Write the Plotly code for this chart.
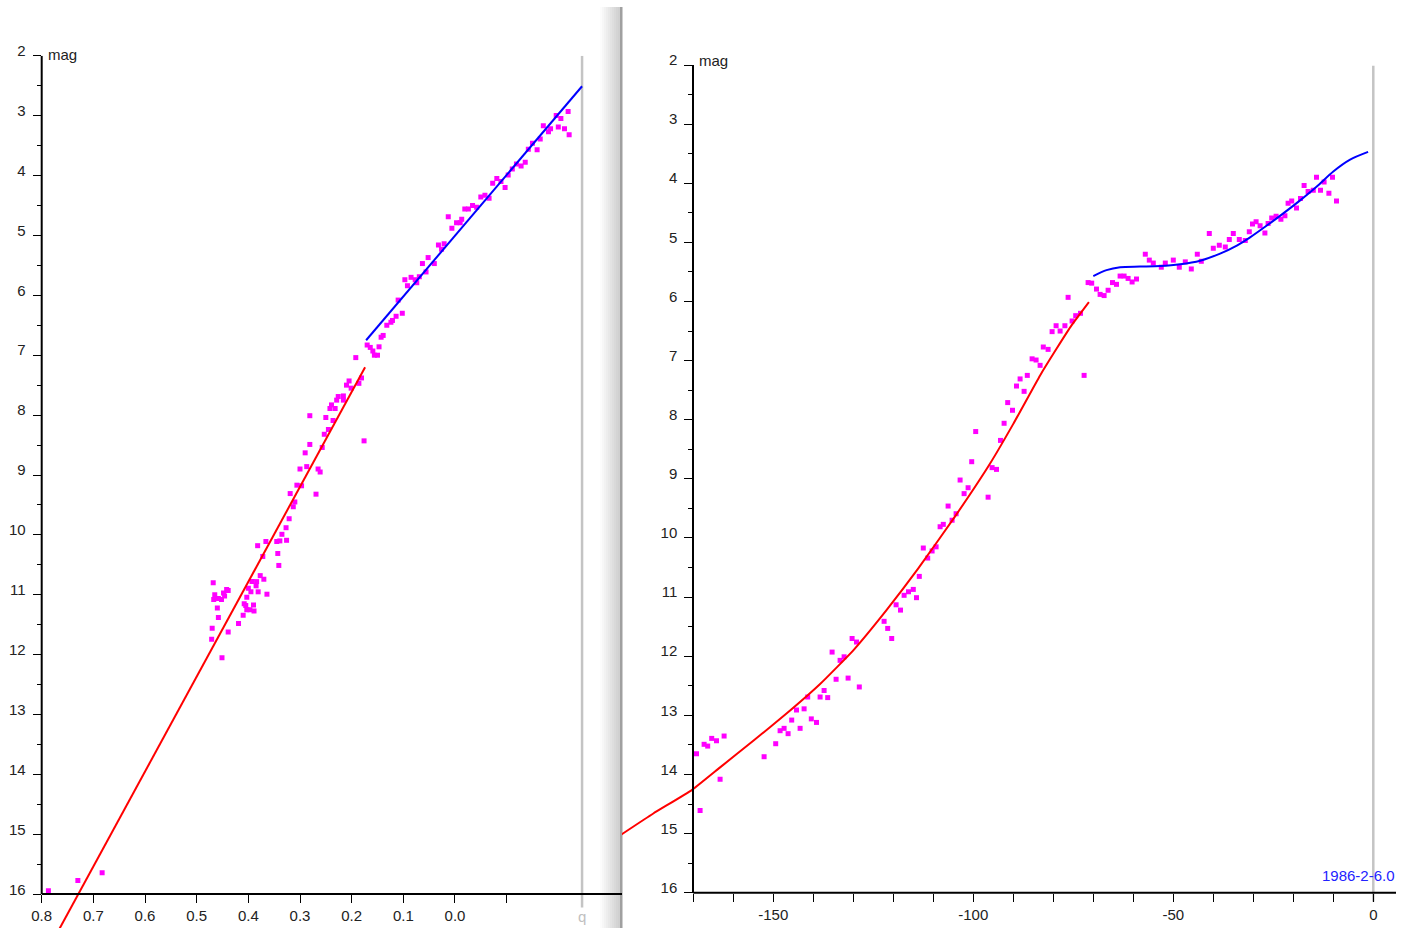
import plotly.graph_objects as go

W, H = 1411, 928

# ---- left panel: magnitude vs log r ----
logr_obs = [-0.219, -0.196, -0.205, -0.171, -0.200, -0.212, -0.185, -0.181, -0.221, -0.165,
            -0.150, -0.142, -0.159, -0.136, -0.128, -0.119, -0.111, -0.103, -0.081, -0.073,
            -0.089, -0.097, -0.058, -0.050, -0.066, -0.034, -0.026, -0.019, -0.042, 0.013,
            -0.013, -0.003, -0.010, 0.006, 0.032, 0.021, 0.026, 0.052, 0.063, 0.040,
            0.056, 0.085, 0.097, 0.077, 0.069, 0.092, 0.074, 0.110, 0.102, 0.114,
            0.124, 0.132, 0.121, 0.139, 0.143, 0.170, 0.164, 0.147, 0.159, 0.156,
            0.150, 0.192,
            0.181, 0.186, 0.205, 0.210, 0.201, 0.226, 0.216, 0.229, 0.216, 0.239,
            0.242, 0.232, 0.281, 0.250, 0.236, 0.245, 0.253, 0.281, 0.257, 0.290,
            0.176, 0.287, 0.300, 0.265, 0.261, 0.306, 0.297, 0.319, 0.269, 0.310,
            0.313, 0.321, 0.327, 0.335,
            0.366, 0.345, 0.339, 0.326, 0.382, 0.343, 0.372, 0.341, 0.468, 0.377,
            0.370, 0.393, 0.384, 0.385, 0.400, 0.395, 0.381, 0.364, 0.442, 0.439,
            0.448, 0.446, 0.452, 0.465, 0.467, 0.458, 0.403, 0.408, 0.405, 0.390,
            0.460, 0.403, 0.397, 0.389, 0.410, 0.458, 0.419, 0.470, 0.439, 0.471,
            0.451,
            0.787, 0.730, 0.683]
mag_obs_l = [2.93, 3.00, 3.05, 3.17, 3.19, 3.22, 3.22, 3.27, 3.32, 3.39,
             3.46, 3.56, 3.57, 3.78, 3.84, 3.81, 3.89, 3.99, 4.05, 4.13,
             4.10, 4.20, 4.33, 4.36, 4.38, 4.50, 4.56, 4.56, 4.53, 4.69,
             4.73, 4.79, 4.79, 4.88, 5.16, 5.14, 5.23, 5.37, 5.47, 5.47,
             5.61, 5.70, 5.74, 5.74, 5.69, 5.84, 5.79, 6.08, 6.30, 6.35,
             6.45, 6.50, 6.42, 6.67, 6.70, 6.83, 6.87, 6.86, 6.93, 7.00,
             7.00, 7.04,
             7.38, 7.47, 7.43, 7.50, 7.55, 7.69, 7.68, 7.75, 7.75, 7.83,
             7.89, 7.89, 8.01, 8.04, 8.09, 8.24, 8.32, 8.49, 8.54, 8.63,
             8.43, 8.86, 8.90, 8.90, 8.95, 9.17, 9.18, 9.31, 9.32, 9.45,
             9.53, 9.73, 9.88, 9.99,
             10.11, 10.11, 10.10, 10.09, 10.18, 10.31, 10.36, 10.51, 10.80, 10.68,
             10.74, 10.78, 10.78, 10.85, 10.89, 10.95, 10.95, 10.99, 10.91, 10.93,
             10.97, 11.02, 11.08, 11.00, 11.08, 11.06, 11.04, 11.15, 11.18, 11.17,
             11.22, 11.25, 11.25, 11.27, 11.34, 11.38, 11.48, 11.56, 11.62, 11.74,
             12.05,
             15.94, 15.77, 15.64]

# fitted laws (pre- and post-break)
fit_pre_logr = [0.800, 0.174]
fit_pre_mag = [17.12, 7.20]
fit_post_logr = [0.172, -0.246]
fit_post_mag = [6.75, 2.51]
log_q = -0.246

x_ticks_l = [0.8, 0.7, 0.6, 0.5, 0.4, 0.3, 0.2, 0.1, 0.0, -0.1]
x_text_l = ["0.8", "0.7", "0.6", "0.5", "0.4", "0.3", "0.2", "0.1", "0.0", ""]

# ---- right panel: magnitude vs days from perihelion ----
t_obs = [-169.2, -168.3, -167.3, -166.4, -165.4, -164.2, -162.3, -163.3, -152.3, -149.4,
         -148.3, -147.3, -146.3, -145.4, -144.2, -142.3, -143.3, -140.5, -139.2, -141.4,
         -138.3, -137.3, -136.4, -135.3, -134.3, -133.3, -132.3, -131.3, -130.3, -129.2,
         -128.5, -122.3, -121.4, -120.4, -119.3, -118.2, -117.3, -116.2, -115.0, -114.2,
         -113.5,
         -111.4, -110.3, -109.3, -112.5, -108.3, -107.5, -105.3, -104.3, -106.3, -102.3,
         -101.3, -103.3, -100.4, -96.3, -99.4, -95.3, -94.2, -93.2, -92.3, -90.2,
         -91.4, -87.3, -89.2, -88.3, -86.5, -85.3, -84.3, -83.3, -82.5, -81.3,
         -80.3, -79.3, -78.3, -77.1, -76.3, -75.3, -74.4, -73.2, -72.3, -71.3,
         -70.4, -69.2, -68.3, -67.3, -66.3, -65.2, -64.2, -63.3, -62.3, -61.3,
         -60.3, -59.2,
         -57.0, -56.0, -55.0, -53.0, -52.0, -50.0, -48.5, -47.0, -45.5, -44.0,
         -43.0, -41.0, -40.0, -38.5, -37.0, -36.0, -35.0, -33.5, -32.0, -31.0,
         -30.2, -29.3, -28.3, -27.1, -26.3, -25.4, -24.3, -23.1, -22.1, -21.3,
         -20.4, -19.2, -18.2, -17.3, -16.3, -15.0, -14.2, -13.2, -12.3, -11.1,
         -10.2, -9.2]
mag_obs_r = [13.65, 14.61, 13.49, 13.52, 13.39, 13.43, 13.35, 14.08, 13.70, 13.48,
             13.26, 13.22, 13.31, 13.08, 12.91, 12.89, 13.22, 13.06, 13.12, 12.69,
             12.69, 12.58, 12.70, 11.93, 12.39, 12.07, 12.01, 12.37, 11.70, 11.76,
             12.52, 11.41, 11.53, 11.70, 11.13, 11.22, 10.97, 10.91, 10.87, 11.01,
             10.65,
             10.34, 10.22, 10.15, 10.17, 9.81, 9.77, 9.70, 9.59, 9.46, 9.25,
             9.15, 9.02, 8.71, 9.31, 8.20, 8.81, 8.84, 8.35, 8.06, 7.84,
             7.71, 7.52, 7.43, 7.31, 7.25, 6.97, 6.99, 7.08, 6.77, 6.81,
             6.51, 6.41, 6.50, 6.41, 5.93, 6.33, 6.24, 6.20, 7.25, 5.68,
             5.69, 5.79, 5.88, 5.90, 5.81, 5.68, 5.71, 5.57, 5.57, 5.61,
             5.67, 5.62,
             5.20, 5.30, 5.35, 5.42, 5.35, 5.30, 5.42, 5.33, 5.45, 5.20,
             5.32, 4.85, 5.10, 5.05, 5.08, 4.95, 4.85, 4.95, 4.97, 4.82,
             4.69, 4.65, 4.72, 4.84, 4.68, 4.59, 4.56, 4.61, 4.55, 4.34,
             4.30, 4.42, 4.26, 4.04, 4.14, 4.12, 3.90, 4.12, 3.98, 4.17,
             3.90, 4.30]

curve_pre_t = [-188.3, -180.0, -170.3, -163.3, -155.0, -146.7, -138.3, -130.0, -121.7, -113.8,
               -104.2, -95.8, -90.0, -83.3, -79.2, -75.4, -71.1]
curve_pre_mag = [15.03, 14.66, 14.26, 13.88, 13.43, 12.97, 12.47, 11.90, 11.22, 10.52,
                 9.60, 8.74, 8.07, 7.25, 6.80, 6.40, 6.01]
curve_post_t = [-70.0, -66.7, -63.3, -58.3, -53.3, -48.3, -43.3, -38.3, -34.0, -30.9,
                -26.7, -22.5, -18.3, -14.2, -10.0, -5.8, -1.3]
curve_post_mag = [5.57, 5.47, 5.42, 5.41, 5.40, 5.37, 5.31, 5.19, 5.05, 4.92,
                  4.72, 4.51, 4.29, 4.06, 3.80, 3.60, 3.47]

x_ticks_r = list(range(-170, 1, 10))
x_text_r = ["-150" if v == -150 else "-100" if v == -100 else "-50" if v == -50
            else "0" if v == 0 else "" for v in x_ticks_r]

mag_major = list(range(2, 17))
mag_minor = [m + 0.5 for m in range(2, 16)]
perihelion_label = "1986-2-6.0"

# ---- pixel frame of the two panels ----
def px(x):
    return x / W

def py(y):
    return 1 - y / H

L_left, L_right, L_top, L_base = 41.7, 621.7, 55.7, 894.0
L_scale = 59.9          # px per magnitude
L_xscale = 516.6        # px per unit log r
R_left, R_axis, R_right, R_top, R_base = 622.0, 693.3, 1396.0, 65.0, 892.7
R_scale = 4.0           # px per day

l_xmin = 0.8 - (L_right - L_left) / L_xscale
l_ymax = 2 + (H - L_top) / L_scale
r_xmin = -170 - (R_axis - R_left) / R_scale
r_xmax = -170 + (R_right - R_axis) / R_scale

fig = go.Figure()

marker = dict(color="#ff00ff", size=5, symbol="square", line=dict(width=0))

fig.add_trace(go.Scatter(x=logr_obs, y=mag_obs_l, mode="markers", marker=marker,
                         xaxis="x", yaxis="y"))
fig.add_trace(go.Scatter(x=fit_pre_logr, y=fit_pre_mag, mode="lines",
                         line=dict(color="#ff0000", width=2), xaxis="x", yaxis="y"))
fig.add_trace(go.Scatter(x=fit_post_logr, y=fit_post_mag, mode="lines",
                         line=dict(color="#0000ff", width=2), xaxis="x", yaxis="y"))

fig.add_trace(go.Scatter(x=t_obs, y=mag_obs_r, mode="markers", marker=marker,
                         xaxis="x2", yaxis="y2"))
fig.add_trace(go.Scatter(x=curve_pre_t, y=curve_pre_mag, mode="lines",
                         line=dict(color="#ff0000", width=2, shape="spline", smoothing=0.4),
                         xaxis="x2", yaxis="y2"))
fig.add_trace(go.Scatter(x=curve_post_t, y=curve_post_mag, mode="lines",
                         line=dict(color="#0000ff", width=2, shape="spline", smoothing=0.8),
                         xaxis="x2", yaxis="y2"))

FONT = "Liberation Sans, Arial, sans-serif"
tickfont = dict(family=FONT, size=15, color="#222222")
common = dict(showgrid=False, zeroline=False, ticks="outside", ticklen=8, tickwidth=1,
              tickcolor="black", tickfont=tickfont, automargin=False)

yminor = dict(tickvals=mag_minor, ticklen=4, tickwidth=1, tickcolor="black", ticks="outside")
ylab = dict(ticklabelshift=5, ticklabelstandoff=4)

fig.update_layout(
    width=W, height=H, margin=dict(l=0, r=0, t=0, b=0, pad=0),
    paper_bgcolor="white", plot_bgcolor="rgba(0,0,0,0)", showlegend=False,
    xaxis=dict(domain=[px(L_left), px(L_right)], range=[0.8, l_xmin],
               anchor="free", position=py(L_base), side="bottom",
               showline=True, linewidth=2, linecolor="black",
               tickvals=x_ticks_l, ticktext=x_text_l, **common),
    yaxis=dict(domain=[0, py(L_top)], range=[l_ymax, 2], anchor="x",
               showline=False, tickvals=mag_major, ticktext=[str(v) for v in mag_major],
               minor=yminor, **ylab, **common),
    xaxis2=dict(domain=[px(R_left), px(R_right)], range=[r_xmin, r_xmax],
                anchor="y2", showline=False,
                tickvals=x_ticks_r, ticktext=x_text_r, **common),
    yaxis2=dict(domain=[py(R_base), py(R_top)], range=[16, 2],
                anchor="free", position=px(R_axis), side="left",
                showline=True, linewidth=2, linecolor="black",
                tickvals=mag_major, ticktext=[str(v) for v in mag_major],
                minor=yminor, **ylab, **common),
)

shapes = []
# window divider between the two panels
n = 10
for i in range(n):
    g = int(252 - (252 - 208) * i / (n - 1))
    shapes.append(dict(type="rect", xref="paper", yref="paper",
                       x0=px(600 + 2 * i), x1=px(602 + 2 * i), y0=0, y1=py(7),
                       fillcolor=f"rgb({g},{g},{g})", line=dict(width=0), layer="below"))
shapes.append(dict(type="rect", xref="paper", yref="paper", x0=px(620), x1=px(622.5),
                   y0=0, y1=py(7), fillcolor="#a0a0a0", line=dict(width=0), layer="below"))
# left magnitude axis line
shapes.append(dict(type="line", xref="x domain", yref="y", x0=0, x1=0, y0=2, y1=16,
                   line=dict(color="black", width=2)))
# right time axis line
shapes.append(dict(type="line", xref="x2", yref="y2 domain", x0=-170, x1=r_xmax, y0=0, y1=0,
                   line=dict(color="black", width=2)))
# perihelion markers
shapes.append(dict(type="line", xref="x", yref="y", x0=log_q, x1=log_q, y0=2, y1=16.22,
                   line=dict(color="#c4c4c4", width=2.5), layer="below"))
shapes.append(dict(type="line", xref="x2", yref="y2 domain", x0=0, x1=0, y0=-0.011, y1=0.999,
                   line=dict(color="#c4c4c4", width=2.5), layer="below"))
fig.update_layout(shapes=shapes)

labfont = dict(family=FONT, size=15, color="#222222")
fig.add_annotation(text="mag", xref="paper", yref="paper", x=px(46), y=py(54),
                   xanchor="left", yanchor="middle", showarrow=False, font=labfont)
fig.add_annotation(text="mag", xref="paper", yref="paper", x=px(697), y=py(61),
                   xanchor="left", yanchor="middle", showarrow=False, font=labfont)
fig.add_annotation(text="q", xref="x", yref="paper", x=log_q, y=py(916),
                   xanchor="center", yanchor="middle", showarrow=False,
                   font=dict(family=FONT, size=15, color="#c0c0c0"))
fig.add_annotation(text=perihelion_label, xref="paper", yref="paper", x=px(1397), y=py(875),
                   xanchor="right", yanchor="middle", showarrow=False,
                   font=dict(family=FONT, size=15, color="#2222ff"))

fig.write_html("out.html")
